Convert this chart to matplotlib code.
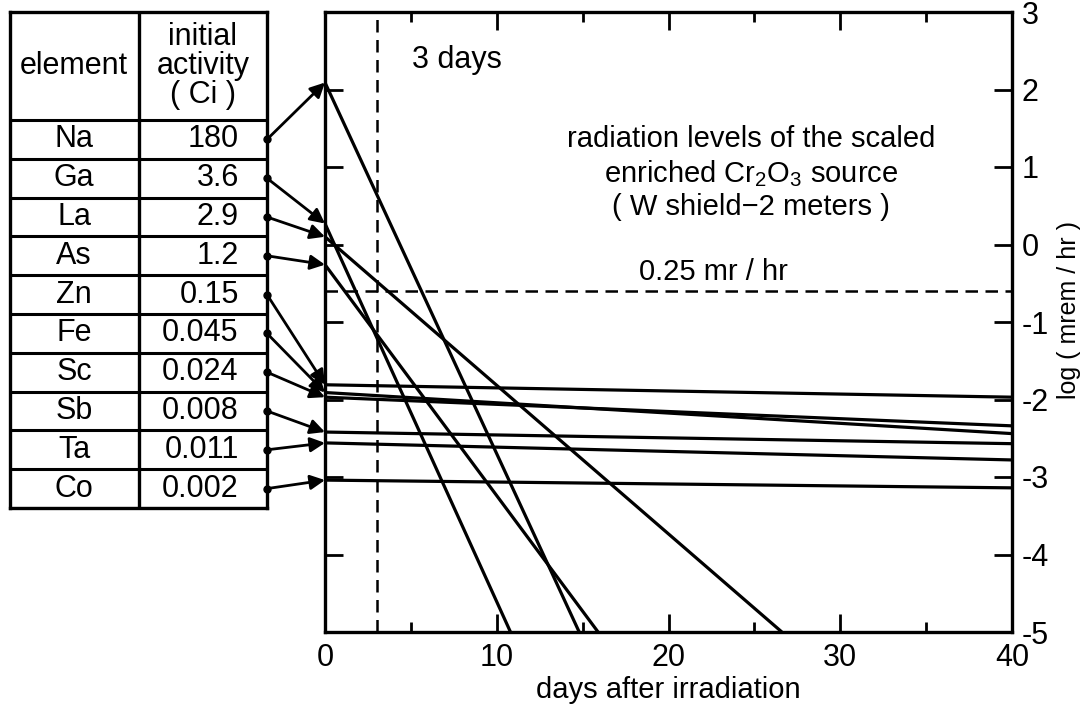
import matplotlib
matplotlib.use("Agg")
import matplotlib.pyplot as plt
from matplotlib import font_manager

names = {f.name for f in font_manager.fontManager.ttflist}
FONT = 'Liberation Sans Narrow' if 'Liberation Sans Narrow' in names else 'Liberation Sans'
plt.rcParams['font.family'] = [FONT, 'DejaVu Sans']
plt.rcParams['mathtext.fontset'] = 'custom'
plt.rcParams['mathtext.rm'] = FONT
plt.rcParams['mathtext.default'] = 'regular'

# ---- data ----
elements = ['Na', 'Ga', 'La', 'As', 'Zn', 'Fe', 'Sc', 'Sb', 'Ta', 'Co']
activity = ['180', '3.6', '2.9', '1.2', '0.15', '0.045', '0.024', '0.008', '0.011', '0.002']
log_start = [2.09, 0.27, 0.10, -0.26, -1.81, -1.91, -1.97, -2.42, -2.56, -3.04]   # log(mrem/hr) at day 0
end_day = [14.8, 10.8, 26.6, 15.9, 40, 40, 40, 40, 40, 40]                        # day where line ends
log_end = [-5, -5, -5, -5, -1.97, -2.44, -2.34, -2.57, -2.78, -3.14]              # log(mrem/hr) at end
limit_level = -0.6          # 0.25 mr/hr
wait_days = 3
x_ticks_major = [0, 10, 20, 30, 40]
x_ticks_minor = [5, 15, 25, 35]
y_ticks = [3, 2, 1, 0, -1, -2, -3, -4, -5]

FS = 22
fig = plt.figure(figsize=(10.9, 7.08), dpi=100)

# main plot
ax = fig.add_axes([325/1090, 1-632/708, 687/1090, 620/708])
ax.set_xlim(0, 40)
ax.set_ylim(-5, 3)
for s in ax.spines.values():
    s.set_linewidth(2.4)
ax.set_xticks(x_ticks_major)
ax.set_xticks(x_ticks_minor, minor=True)
ax.set_yticks(y_ticks)
ax.tick_params(axis='both', which='major', direction='in', length=13, width=2,
               labelsize=FS, top=True, right=True, left=True, bottom=True,
               labelleft=False, labelright=True)
ax.tick_params(axis='x', which='major', pad=8)
ax.tick_params(axis='y', which='major', pad=7)
ax.tick_params(axis='x', which='minor', direction='in', length=7, width=2, top=True, bottom=True)
ax.set_yticklabels([str(v) for v in y_ticks])
ax.set_xlabel('days after irradiation', fontsize=FS - 1, labelpad=2)
ax.yaxis.set_label_position('right')
ax.set_ylabel('log ( mrem / hr )', fontsize=FS - 4)
ax.yaxis.set_label_coords(1.066, 0.52)

for s0, xe, ye in zip(log_start, end_day, log_end):
    ax.plot([0, xe], [s0, ye], color='black', lw=2.3, solid_capstyle='butt', clip_on=True)

ax.axvline(wait_days, color='black', lw=1.8, ls=(0, (5, 3)))
ax.axhline(limit_level, color='black', lw=1.8, ls=(0, (5, 3)))

ax.text(7.7, 2.38, '3 days', fontsize=FS, ha='center', va='center')
ax.text(24.8, 0.92, 'radiation levels of the scaled\nenriched Cr$_2$O$_3$ source\n( W shield\u22122 meters )',
        fontsize=FS - 1, ha='center', va='center', linespacing=1.2)
ax.text(22.6, -0.36, '0.25 mr / hr', fontsize=FS - 1, ha='center', va='center')

# table
axt = fig.add_axes([10/1090, 1-508/708, 257/1090, 496/708])
hdr = 108/38.8
n = len(elements)
axt.set_xlim(0, 2)
axt.set_ylim(0, n + hdr)
axt.set_xticks([]); axt.set_yticks([])
for s in axt.spines.values():
    s.set_linewidth(2.4)
axt.axvline(1, color='black', lw=2.4)
for i in range(n + 1):
    axt.axhline(i, color='black', lw=2.2)
axt.text(0.5, n + hdr/2, 'element', fontsize=FS, ha='center', va='center')
axt.text(1.5, n + hdr/2, 'initial\nactivity\n( Ci )', fontsize=FS, ha='center', va='center', linespacing=0.95)
for i, (el, act) in enumerate(zip(elements, activity)):
    yc = n - i - 0.5
    axt.text(0.5, yc, el, fontsize=FS, ha='center', va='center')
    axt.text(1.78, yc, act, fontsize=FS, ha='right', va='center')
    axt.plot([2], [yc], 'o', color='black', ms=5, clip_on=False)
    ax.annotate('', xy=(0, log_start[i]), xycoords='data',
                xytext=(2, yc), textcoords=axt.transData,
                arrowprops=dict(arrowstyle='-|>', color='black', lw=2, mutation_scale=22,
                                shrinkA=0, shrinkB=0),
                annotation_clip=False)

fig.savefig('out.png', dpi=100)
